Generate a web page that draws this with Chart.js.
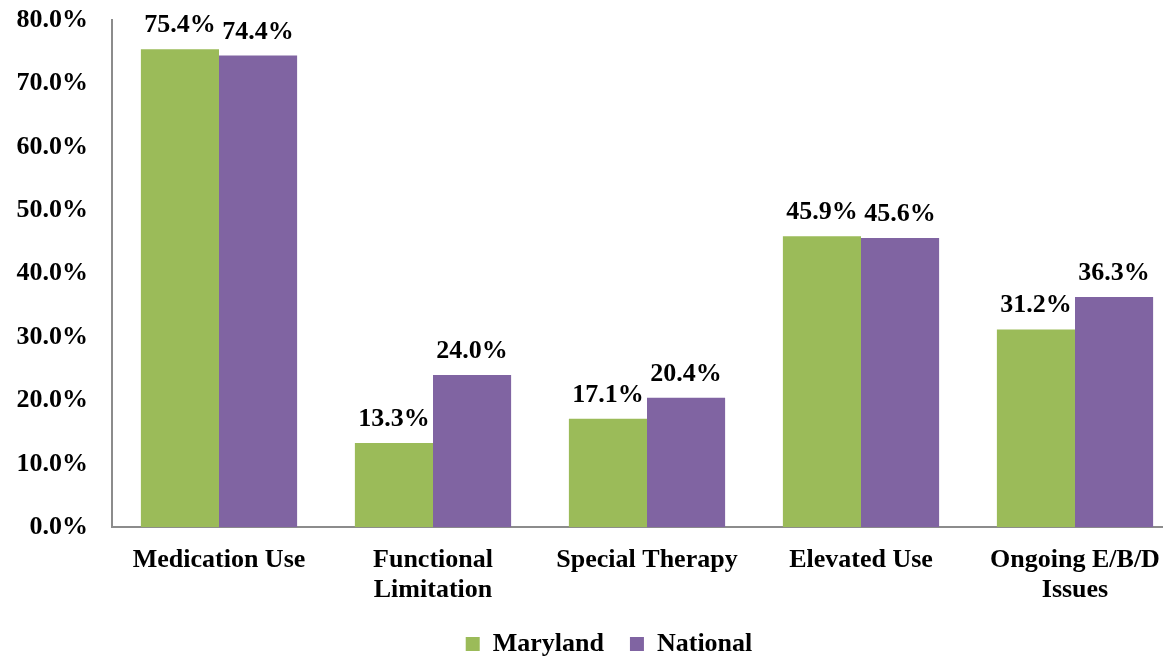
<!DOCTYPE html>
<html>
<head>
<meta charset="utf-8">
<script src="https://cdn.jsdelivr.net/npm/chart.js@4/dist/chart.umd.min.js"></script>
<style>
  html, body { margin: 0; padding: 0; background: #fff; overflow: hidden; }
</style>
</head>
<body>
<canvas id="chart" width="1218" height="659"></canvas>
<script>
const categories = ["Medication Use", ["Functional", "Limitation"], "Special Therapy", "Elevated Use", ["Ongoing E/B/D", "Issues"]];
const marylandValues = [75.4, 13.3, 17.1, 45.9, 31.2];
const nationalValues = [74.4, 24.0, 20.4, 45.6, 36.3];
const yTicks = [0, 10, 20, 30, 40, 50, 60, 70, 80];

const FONT = "'Liberation Serif', 'Times New Roman', serif";
const SIZE = 26;

// draws the value above each bar
const barLabels = {
    id: 'barLabels',
    afterDatasetsDraw(chart) {
        const ctx = chart.ctx;
        ctx.save();
        ctx.font = "bold " + SIZE + "px " + FONT;
        ctx.fillStyle = "#000";
        ctx.textAlign = "center";
        ctx.textBaseline = "alphabetic";
        chart.data.datasets.forEach((ds, i) => {
            chart.getDatasetMeta(i).data.forEach((bar, j) => {
                ctx.fillText(ds.data[j].toFixed(1) + "%", bar.x, bar.y - 17);
            });
        });
        ctx.restore();
    }
};

// the original legend is centred on a slightly wider canvas
const legendShift = {
    id: 'legendShift',
    afterLayout(chart) {
        const lg = chart.legend;
        lg.left += 18; lg.right += 18;
    }
};

const ctx = document.getElementById("chart").getContext("2d");

new Chart(ctx, {
    type: 'bar',
    data: {
        labels: categories,
        datasets: [
            { label: "Maryland", data: marylandValues, backgroundColor: "#9BBB59" },
            { label: "National", data: nationalValues, backgroundColor: "#8064A2" }
        ]
    },
    options: {
        responsive: false,
        animation: false,
        layout: { padding: { top: 20, right: 36, left: 0, bottom: 0 } },
        datasets: {
            bar: { categoryPercentage: 0.73, barPercentage: 1.0 }
        },
        plugins: {
            tooltip: { enabled: false },
            legend: {
                position: 'bottom',
                maxHeight: 54,
                labels: {
                    color: "#000",
                    font: { family: FONT, size: SIZE, weight: 'bold' },
                    boxWidth: 14,
                    boxHeight: 14,
                    padding: 26
                }
            }
        },
        scales: {
            x: {
                grid: { display: false, drawTicks: false },
                border: { color: "#8c8c8c", width: 2 },
                ticks: {
                    color: "#000",
                    font: { family: FONT, size: SIZE, weight: 'bold', lineHeight: 1.15 },
                    maxRotation: 0,
                    minRotation: 0,
                    padding: 18
                },
                afterFit: (axis) => { axis.height = axis.height - 18; }
            },
            y: {
                min: 0,
                max: 80,
                afterBuildTicks: (axis) => { axis.ticks = yTicks.map(v => ({ value: v })); },
                grid: { display: false, drawTicks: false },
                border: { color: "#8c8c8c", width: 2 },
                ticks: {
                    color: "#000",
                    font: { family: FONT, size: SIZE, weight: 'bold' },
                    padding: 24,
                    callback: (v) => v.toFixed(1) + "%"
                },
                afterFit: (axis) => {
                    axis.width = 112;
                    axis.paddingTop = 0;
                    axis.paddingBottom = 0;
                }
            }
        }
    },
    plugins: [barLabels, legendShift]
});
</script>
</body>
</html>
